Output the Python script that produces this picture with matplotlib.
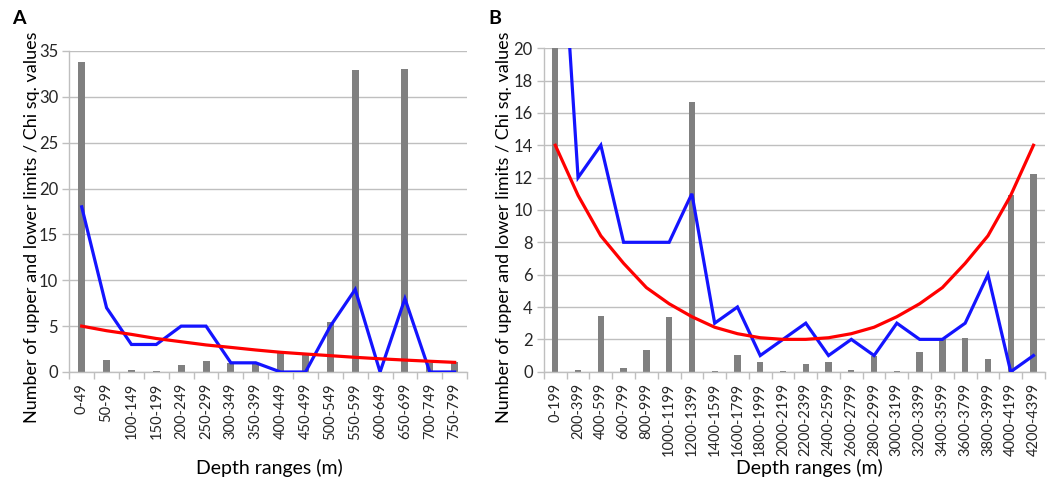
import numpy as np
import matplotlib
matplotlib.use("Agg")
import matplotlib.pyplot as plt
from matplotlib.ticker import MultipleLocator, FixedLocator

plt.rcParams["font.family"] = ["Lato", "DejaVu Sans"]

# panel A data
cats_a = ["0-49", "50-99", "100-149", "150-199", "200-249", "250-299", "300-349",
          "350-399", "400-449", "450-499", "500-549", "550-599", "600-649",
          "650-699", "700-749", "750-799"]
chi_a = [33.8, 1.3, 0.2, 0.1, 0.8, 1.25, 1.0, 0.95, 2.1, 2.0, 5.5, 32.9, 0.0,
         33.0, 1.0, 1.05]
limits_a = [18, 7, 3, 3, 5, 5, 1, 1, 0, 0, 5, 9, 0, 8, 0, 0]
expected_a = [5.0, 4.5, 4.1, 3.65, 3.3, 2.95, 2.68, 2.4, 2.15, 1.96, 1.78, 1.6,
              1.44, 1.3, 1.17, 1.05]

# panel B data
cats_b = ["0-199", "200-399", "400-599", "600-799", "800-999", "1000-1199",
          "1200-1399", "1400-1599", "1600-1799", "1800-1999", "2000-2199",
          "2200-2399", "2400-2599", "2600-2799", "2800-2999", "3000-3199",
          "3200-3399", "3400-3599", "3600-3799", "3800-3999", "4000-4199",
          "4200-4399"]
chi_b = [25.0, 0.08, 3.44, 0.23, 1.34, 3.36, 16.7, 0.03, 1.05, 0.62, 0.04,
         0.48, 0.62, 0.08, 0.97, 0.04, 1.2, 2.0, 2.06, 0.77, 10.95, 12.2]
limits_b = [34, 12, 14, 8, 8, 8, 11, 3, 4, 1, 2, 3, 1, 2, 1, 3, 2, 2, 3, 6, 0, 1]
expected_b = [14.0, 10.9, 8.4, 6.7, 5.2, 4.2, 3.4, 2.75, 2.35, 2.1, 2.0, 2.0,
              2.1, 2.35, 2.75, 3.4, 4.2, 5.2, 6.7, 8.4, 10.9, 14.0]

GRID = "#bfbfbf"
BAR = "#808080"


def draw_panel(ax, cats, chi, limits, expected, ymax, ystep):
    x = np.arange(len(cats))
    ax.bar(x, chi, width=0.28, color=BAR, zorder=2)
    ax.plot(x, limits, color="#1414ff", lw=2.3, zorder=3, solid_joinstyle="miter")
    ax.plot(x, expected, color="#ff0000", lw=2.3, zorder=4)

    ax.set_xlim(-0.5, len(cats) - 0.5)
    ax.set_ylim(0, ymax)
    ax.yaxis.set_major_locator(MultipleLocator(ystep))
    ax.grid(axis="y", color=GRID, lw=1.0, zorder=0)
    ax.set_axisbelow(True)

    ax.set_xticks(x)
    ax.set_xticklabels(cats, rotation=90, fontsize=10.5, color="#262626")
    ax.xaxis.set_minor_locator(FixedLocator(np.arange(len(cats) + 1) - 0.5))
    ax.tick_params(axis="x", which="major", length=0, pad=8)
    ax.tick_params(axis="x", which="minor", length=5, color=GRID, width=1)
    ax.tick_params(axis="y", length=5, color=GRID, width=1, pad=3,
                   labelsize=12, labelcolor="#262626")

    for side in ["top", "right"]:
        ax.spines[side].set_visible(False)
    for side in ["left", "bottom"]:
        ax.spines[side].set_color(GRID)
        ax.spines[side].set_linewidth(1.0)


fig = plt.figure(figsize=(10.48, 4.8), dpi=100)
ax1 = fig.add_axes([0.0661, 0.225, 0.3796, 0.669])
ax2 = fig.add_axes([0.519, 0.2256, 0.478, 0.674])

draw_panel(ax1, cats_a, chi_a, limits_a, expected_a, 35, 5)
draw_panel(ax2, cats_b, chi_b, limits_b, expected_b, 20, 2)

ylab = "Number of upper and lower limits / Chi sq. values"
fig.text(32 / 1048, 1 - 227 / 480, ylab, rotation=90, ha="center", va="center",
         fontsize=13)
fig.text(504 / 1048, 1 - 227 / 480, ylab, rotation=90, ha="center", va="center",
         fontsize=13)
fig.text(269 / 1048, 1 - 474 / 480, "Depth ranges (m)", ha="center",
         va="baseline", fontsize=14)
fig.text(809 / 1048, 1 - 474 / 480, "Depth ranges (m)", ha="center",
         va="baseline", fontsize=14)

fig.text(12 / 1048, 1 - 18 / 480, "A", ha="left", va="center", fontsize=14,
         fontweight="bold")
fig.text(488 / 1048, 1 - 18 / 480, "B", ha="left", va="center", fontsize=14,
         fontweight="bold")

fig.savefig("out.png", dpi=100)
